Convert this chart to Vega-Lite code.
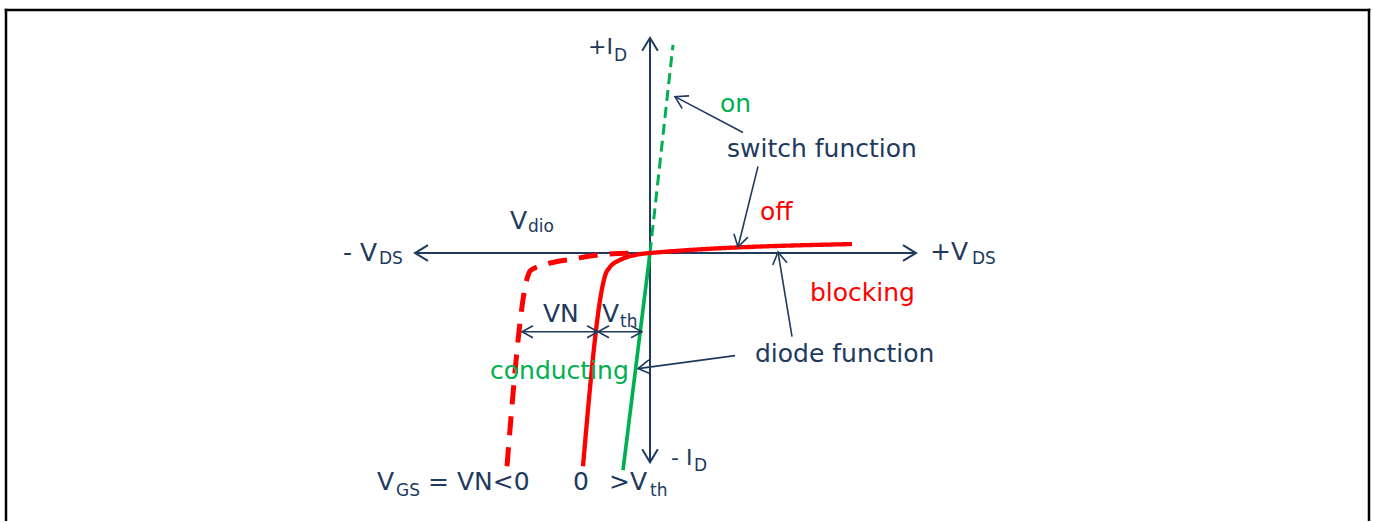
{
  "$schema": "https://vega.github.io/schema/vega-lite/v6.json",
  "width": 1373,
  "height": 523,
  "autosize": {"type": "fit", "contains": "padding"},
  "padding": 0,
  "background": "white",
  "config": {"view": {"stroke": null}, "text": {"font": "DejaVu Sans"}},
  "datasets": {
    "rules": [
      {"kind": "frame", "x": -64.53, "y": 24.4, "x2": 72.03, "y2": 24.4},
      {"kind": "frame", "x": -64.4, "y": 24.53, "x2": -64.4, "y2": -26.9},
      {"kind": "frame", "x": 71.9, "y": 24.53, "x2": 71.9, "y2": -26.9},
      {"kind": "axis", "x": -23.5, "y": 0, "x2": 26.6, "y2": 0},
      {"kind": "axis", "x": 0, "y": 21.6, "x2": 0, "y2": -21.0},
      {"kind": "pointer", "x": 9.3, "y": 12.1, "x2": 2.5, "y2": 15.7},
      {"kind": "pointer", "x": 10.8, "y": 8.7, "x2": 8.8, "y2": 0.6},
      {"kind": "pointer", "x": 14.2, "y": -8.4, "x2": 12.8, "y2": 0.1},
      {"kind": "pointer", "x": 8.5, "y": -10.3, "x2": -1.2, "y2": -11.6},
      {"kind": "pointer", "x": -12.8, "y": -7.9, "x2": -0.8, "y2": -7.9}
    ],
    "heads": [
      {"kind": "axis", "x": -23.5, "y": 0, "dir": 180},
      {"kind": "axis", "x": 26.6, "y": 0, "dir": 0},
      {"kind": "axis", "x": 0, "y": 21.6, "dir": 270},
      {"kind": "axis", "x": 0, "y": -21.0, "dir": 90},
      {"kind": "pointer", "x": 2.5, "y": 15.7, "dir": 208},
      {"kind": "pointer", "x": 8.8, "y": 0.6, "dir": 104},
      {"kind": "pointer", "x": 12.8, "y": 0.1, "dir": 261},
      {"kind": "pointer", "x": -1.2, "y": -11.6, "dir": 172},
      {"kind": "dim", "x": -12.8, "y": -7.9, "dir": 180},
      {"kind": "dim", "x": -5.2, "y": -7.9, "dir": 0},
      {"kind": "dim", "x": -5.2, "y": -7.9, "dir": 180},
      {"kind": "dim", "x": -0.8, "y": -7.9, "dir": 0}
    ],
    "curves": [
      {"curve": "on", "x": 0, "y": 0},
      {"curve": "on", "x": 2.3, "y": 20.9},
      {"curve": "conducting", "x": 0, "y": 0},
      {"curve": "conducting", "x": -2.7, "y": -21.8},
      {"curve": "vgs0", "x": 20.2, "y": 0.9},
      {"curve": "vgs0", "x": 0, "y": 0},
      {"curve": "vgs0", "x": -1.5, "y": -0.2},
      {"curve": "vgs0", "x": -3.0, "y": -0.7},
      {"curve": "vgs0", "x": -4.0, "y": -1.4},
      {"curve": "vgs0", "x": -4.5, "y": -2.3},
      {"curve": "vgs0", "x": -4.7, "y": -3.1},
      {"curve": "vgs0", "x": -6.7, "y": -21.4},
      {"curve": "vgsvn", "x": -1.0, "y": 0},
      {"curve": "vgsvn", "x": -4.2, "y": -0.1},
      {"curve": "vgsvn", "x": -6.0, "y": -0.3},
      {"curve": "vgsvn", "x": -7.7, "y": -0.6},
      {"curve": "vgsvn", "x": -9.5, "y": -0.9},
      {"curve": "vgsvn", "x": -11.0, "y": -1.3},
      {"curve": "vgsvn", "x": -12.0, "y": -1.8},
      {"curve": "vgsvn", "x": -12.3, "y": -2.6},
      {"curve": "vgsvn", "x": -14.3, "y": -21.4}
    ],
    "labels": [
      {"role": "word", "text": "on", "x": 7.0, "y": 14.2, "tone": "on"},
      {"role": "word", "text": "switch function", "x": 7.7, "y": 9.6, "tone": "label"},
      {"role": "word", "text": "off", "x": 11.0, "y": 3.3, "tone": "off"},
      {"role": "word", "text": "blocking", "x": 16.0, "y": -4.8, "tone": "off"},
      {"role": "word", "text": "diode function", "x": 10.5, "y": -10.9, "tone": "label"},
      {"role": "word", "text": "conducting", "x": -16.0, "y": -12.6, "tone": "on"},
      {"role": "word", "text": "VN", "x": -10.7, "y": -6.9, "tone": "label"},
      {"role": "word", "text": "V", "x": -4.8, "y": -6.9, "tone": "label"},
      {"role": "word", "text": "V", "x": -14.0, "y": 2.4, "tone": "label"},
      {"role": "word", "text": "- V", "x": -30.7, "y": -0.8, "tone": "label"},
      {"role": "word", "text": "+V", "x": 28.0, "y": -0.7, "tone": "label"},
      {"role": "word", "text": "V", "x": -27.3, "y": -23.8, "tone": "label"},
      {"role": "word", "text": "= VN<0", "x": -22.2, "y": -23.8, "tone": "label"},
      {"role": "word", "text": "0", "x": -7.7, "y": -23.8, "tone": "label"},
      {"role": "word", "text": ">V", "x": -4.1, "y": -23.8, "tone": "label"},
      {"role": "current", "text": "+I", "x": -6.2, "y": 20.0, "tone": "label"},
      {"role": "current", "text": "- I", "x": 2.1, "y": -21.3, "tone": "label"},
      {"role": "subscript", "text": "D", "x": -3.6, "y": 19.3, "tone": "label"},
      {"role": "subscript", "text": "D", "x": 4.4, "y": -21.9, "tone": "label"},
      {"role": "subscript", "text": "DS", "x": -27.1, "y": -1.1, "tone": "label"},
      {"role": "subscript", "text": "DS", "x": 32.2, "y": -1.1, "tone": "label"},
      {"role": "subscript", "text": "dio", "x": -12.2, "y": 2.1, "tone": "label"},
      {"role": "subscript", "text": "th", "x": -3.0, "y": -7.4, "tone": "label"},
      {"role": "subscript", "text": "GS", "x": -25.4, "y": -24.4, "tone": "label"},
      {"role": "subscript", "text": "th", "x": 0.0, "y": -24.4, "tone": "label"}
    ]
  },
  "encoding": {
    "x": {"field": "x", "type": "quantitative", "scale": {"domain": [-65, 72.3], "nice": false, "zero": false}, "axis": null},
    "y": {"field": "y", "type": "quantitative", "scale": {"domain": [-26.9, 25.4], "nice": false, "zero": false}, "axis": null}
  },
  "resolve": {"scale": {"color": "independent", "strokeDash": "independent", "strokeWidth": "independent"}},
  "layer": [
    {
      "data": {"name": "rules"},
      "transform": [{"filter": "datum.kind === 'frame'"}],
      "mark": {"type": "rule", "color": "#000000", "strokeWidth": 2.5},
      "encoding": {"x2": {"field": "x2"}, "y2": {"field": "y2"}}
    },
    {
      "data": {"name": "rules"},
      "transform": [{"filter": "datum.kind === 'axis'"}],
      "mark": {"type": "rule", "color": "#203a5e", "strokeWidth": 2},
      "encoding": {"x2": {"field": "x2"}, "y2": {"field": "y2"}}
    },
    {
      "data": {"name": "curves"},
      "mark": {"type": "line", "interpolate": "monotone"},
      "encoding": {
        "color": {"field": "curve", "type": "nominal", "scale": {"domain": ["on", "conducting", "vgs0", "vgsvn"], "range": ["#00b050", "#00b050", "#ff0000", "#ff0000"]}, "legend": null},
        "strokeDash": {"field": "curve", "type": "nominal", "scale": {"domain": ["on", "conducting", "vgs0", "vgsvn"], "range": [[11, 6], [1, 0], [1, 0], [19, 12]]}, "legend": null},
        "strokeWidth": {"field": "curve", "type": "nominal", "scale": {"domain": ["on", "conducting", "vgs0", "vgsvn"], "range": [3, 5, 5, 5]}, "legend": null}
      }
    },
    {
      "data": {"name": "rules"},
      "transform": [{"filter": "datum.kind === 'pointer'"}],
      "mark": {"type": "rule", "color": "#203a5e", "strokeWidth": 1.6},
      "encoding": {"x2": {"field": "x2"}, "y2": {"field": "y2"}}
    },
    {
      "data": {"name": "heads"},
      "transform": [{"filter": "datum.kind === 'axis'"}],
      "mark": {"type": "point", "shape": "M -1 -0.6 L 0 0 L -1 0.6", "filled": false, "stroke": "#203a5e", "strokeWidth": 2, "size": 676, "opacity": 1},
      "encoding": {"angle": {"field": "dir", "type": "quantitative", "scale": null}}
    },
    {
      "data": {"name": "heads"},
      "transform": [{"filter": "datum.kind === 'pointer'"}],
      "mark": {"type": "point", "shape": "M -1 -0.6 L 0 0 L -1 0.6", "filled": false, "stroke": "#203a5e", "strokeWidth": 1.6, "size": 576, "opacity": 1},
      "encoding": {"angle": {"field": "dir", "type": "quantitative", "scale": null}}
    },
    {
      "data": {"name": "heads"},
      "transform": [{"filter": "datum.kind === 'dim'"}],
      "mark": {"type": "point", "shape": "M -1 -0.55 L 0 0 L -1 0.55", "filled": false, "stroke": "#203a5e", "strokeWidth": 1.6, "size": 484, "opacity": 1},
      "encoding": {"angle": {"field": "dir", "type": "quantitative", "scale": null}}
    },
    {
      "data": {"name": "labels"},
      "transform": [{"filter": "datum.role === 'word'"}],
      "mark": {"type": "text", "align": "left", "baseline": "alphabetic", "fontSize": 25, "font": "DejaVu Sans"},
      "encoding": {
        "text": {"field": "text"},
        "color": {"field": "tone", "type": "nominal", "scale": {"domain": ["label", "on", "off"], "range": ["#203a5e", "#00b050", "#ff0000"]}, "legend": null}
      }
    },
    {
      "data": {"name": "labels"},
      "transform": [{"filter": "datum.role === 'current'"}],
      "mark": {"type": "text", "align": "left", "baseline": "alphabetic", "fontSize": 22, "font": "DejaVu Sans", "color": "#203a5e"},
      "encoding": {"text": {"field": "text"}}
    },
    {
      "data": {"name": "labels"},
      "transform": [{"filter": "datum.role === 'subscript'"}],
      "mark": {"type": "text", "align": "left", "baseline": "alphabetic", "fontSize": 17, "font": "DejaVu Sans", "color": "#203a5e"},
      "encoding": {"text": {"field": "text"}}
    }
  ]
}
